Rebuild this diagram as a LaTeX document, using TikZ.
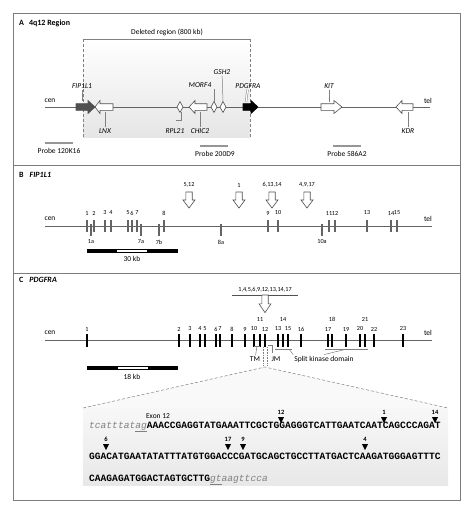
\documentclass[tikz,border=0pt]{standalone}
\usepackage{fontspec}
\setmainfont{Carlito}
\newfontfamily\seqfont{Liberation Mono}
\usepackage{xcolor}
\definecolor{linegray}{RGB}{100,100,100}
\definecolor{framegray}{RGB}{125,125,125}
\definecolor{probegray}{RGB}{150,150,150}
\definecolor{genedark}{RGB}{80,80,80}

\begin{document}
\begin{tikzpicture}[x=1pt, y=-1pt,
    lbl/.style={font=\fontsize{7.5}{9}\selectfont, inner sep=1pt},
    gname/.style={font=\fontsize{7.5}{9}\selectfont\itshape, inner sep=1pt},
    num/.style={font=\fontsize{6.2}{7}\selectfont, inner sep=0.5pt},
    mut/.style={font=\fontsize{6.5}{7}\selectfont\bfseries, inner sep=0.5pt},
    panel/.style={font=\fontsize{8}{9}\selectfont\bfseries, anchor=west, inner sep=0},
    chrom/.style={linegray, line width=1pt},
    tick/.style={gray, line width=0.5pt},
    probe/.style={probegray, line width=2.5pt},
    exonB/.style={linegray, line width=1.5pt},
    exonC/.style={black, line width=1.9pt},
    genewhite/.style={draw=genedark, fill=white, line width=0.6pt},
    genefill/.style={draw=#1, fill=#1, line width=0.6pt},
    seq/.style={font=\seqfont\bfseries\fontsize{9.6}{10}\selectfont, anchor=west, inner sep=0},
    pics/gene/.style 2 args={code={
        \draw[pic actions] (0,-3.3) -- (#1-#2,-3.3) -- (#1-#2,-6.5) -- (#1,0)
            -- (#1-#2,6.5) -- (#1-#2,3.3) -- (0,3.3) -- cycle;}},
    pics/hollow/.style={code={
        \draw[genedark, fill=white, line width=0.6pt] (-3.2,0) -- (3.2,0) -- (3.2,8)
            -- (6,8) -- (0,16) -- (-6,8) -- (-3.2,8) -- cycle;}}
]
\useasboundingbox (0,0) rectangle (474,515);

% frame
\draw[framegray, line width=0.7pt] (13,13) rectangle (460,500);
\draw[framegray, line width=0.7pt] (13,165) -- (460,165) (13,273) -- (460,273);

% ---------- A: 4q12 region
\node[panel] (titA) at (19,23) {A\hspace{5pt}4q12 Region};
\shade[top color=white, bottom color=gray!20] (83,39) rectangle (250,137);
\draw[gray, line width=0.5pt] (83,39) -- (250,39);
\draw[gray, densely dashed, line width=0.5pt] (83,39) -- (83,137) (250,39) -- (250,137);
\node[lbl] (del) at (167,32) {Deleted region (800 kb)};

\draw[chrom] (45,107) -- (430,107);
\node[lbl] (cenA) at (50,101) {cen};
\node[lbl] (telA) at (428,101) {tel};

\pic[genefill=genedark] at (76,107) {gene={19}{7}};
\pic[genewhite, xscale=-1] at (113,107) {gene={18}{5}};
\draw[genewhite] (177,107) -- (180,101.5) -- (183,107) -- (180,112.5) -- cycle;
\pic[genewhite, xscale=-1] at (207,107) {gene={18}{6}};
\draw[genewhite] (211,107) -- (214,101.5) -- (217,107) -- (214,112.5) -- cycle;
\draw[genewhite] (220,107) -- (223,101.5) -- (226,107) -- (223,112.5) -- cycle;
\pic[genefill=black] at (243,107) {gene={15}{7}};
\pic[genewhite] at (321,107) {gene={21}{8}};
\pic[genewhite, xscale=-1] at (413,107) {gene={17}{6}};

% gene names
\node[gname] (fip) at (82,86) {FIP1L1};
\node[gname] (lnx) at (105,131) {LNX};
\node[gname] (rpl) at (175,131) {RPL21};
\node[gname] (chic) at (200,131) {CHIC2};
\node[gname] (morf) at (200,85) {MORF4};
\node[gname] (gsh) at (222,72) {GSH2};
\node[gname] (pdg) at (248,86) {PDGFRA};
\node[gname] (kit) at (329,86) {KIT};
\node[gname] (kdr) at (408,131) {KDR};

\coordinate (fipg) at (82,101);
\coordinate (lnxg) at (105,112);
\coordinate (rplg) at (181,112);
\coordinate (rplk) at (176,120);
\coordinate (chicg) at (200,112);
\coordinate (morft) at (214,89);
\coordinate (morfg) at (214,102);
\coordinate (gshg) at (223,102);
\coordinate (pdgg) at (246,102);
\coordinate (kitg) at (329,102);
\coordinate (kdrg) at (408,112);

\draw[tick] (fip) -- (fipg);
\draw[tick] (lnx) -- (lnxg);
\draw[tick] (rplg) |- (rplk);
\draw[tick] (chic) -- (chicg);
\draw[tick] (morft) -- (morfg);
\draw[tick] (gsh) -- (gshg);
\draw[tick, double distance=1.2pt] (pdg) -- (pdgg);
\draw[tick] (kit) -- (kitg);
\draw[tick] (kdr) -- (kdrg);

% probes
\draw[probe] (45,143) -- (73,143);
\node[lbl] (p1) at (59,151) {Probe 120K16};
\draw[probe] (200,146) -- (228,146);
\node[lbl] (p2) at (215,154) {Probe 200D9};
\draw[probe] (333,146) -- (361,146);
\node[lbl] (p3) at (347,154) {Probe 586A2};

% ---------- B: FIP1L1
\node[panel] (titB) at (19,175) {B\hspace{6pt}\itshape FIP1L1};
\draw[chrom] (45,226) -- (432,226);
\node[lbl] (cenB) at (50,219) {cen};
\node[lbl] (telB) at (428,219) {tel};

\foreach \x/\n in {87/1,94/2,105/3,111/4,128/5,132/6,137/7,164/8,268/9,278/10,329/11,335/12,367/13,391/14,397/15}{
    \draw[exonB] (\x,220) -- (\x,232);
    \node[num] at (\x,213) {\n};
}
\foreach \x/\n in {91/1a,141/7a,159/7b,221/8a,322/10a}{
    \draw[exonB] (\x,224) -- (\x,236);
    \node[num] at (\x,242) {\n};
}

\foreach \x/\n in {189/{5,12},239/1,272/{6,13,14},307/{4,9,17}}{
    \pic at (\x,192) {hollow};
    \node[num] at (\x,185) {\n};
}

\fill (87,249) rectangle (178,253);
\fill[white] (117,250) rectangle (147,252);
\node[lbl] (kbB) at (132,259) {30 kb};

% ---------- C: PDGFRA
\node[panel] (titC) at (19,280) {C\hspace{6pt}\itshape PDGFRA};
\draw[chrom] (45,340) -- (432,340);
\node[lbl] (cenC) at (50,333) {cen};
\node[lbl] (telC) at (428,333) {tel};

\foreach \x/\n in {87/1,179/2,190/3,200/4,205/5,216/6,220/7,232/8,245/9,254/10,265/12,278/13,288/15,301/16,328/17,346/19,360/20,374/22,403/23}{
    \draw[exonC] (\x,334) -- (\x,347);
    \node[num] at (\x,329) {\n};
}
\foreach \x/\n in {260/11,283/14,332/18,365/21}{
    \draw[exonC] (\x,334) -- (\x,347);
    \node[num] at (\x,319) {\n};
}

\node[num] (mutC) at (265,290) {1,4,5,6,9,12,13,14,17};
\draw[genedark, line width=0.6pt] (232,295) -- (298,295);
\pic[yscale=1.1] at (265,295) {hollow};

% domains
\node[lbl] (tm) at (255,359) {TM};
\node[lbl] (jm) at (276,359) {JM};
\node[lbl] (skd) at (324,359) {Split kinase domain};
\coordinate (tmb) at (257,346);
\coordinate (jmb) at (268,345);
\coordinate (jmt) at (272,353);
\draw[tick] (tmb) -- (tm);
\draw[tick] (254,346) -- (260,346);
\draw[tick] (jmb) -| (jmt);
\draw[tick] (275,349) -- (292,349);
\draw[tick] (325,349) -- (368,349);
\coordinate (k1) at (289,349);
\coordinate (k2) at (347,349);
\draw[tick] (k1) -- (skd.north west);
\draw[tick] (k2) -- (skd.north);

% zoom onto exon 12
\coordinate (apex) at (265,367);
\fill[gray!5] (apex) -- (83,408) -- (448,408) -- cycle;
\shade[top color=gray!6, bottom color=gray!18] (83,408) rectangle (448,485);
\draw[gray, densely dotted, line width=0.6pt] (263.5,347) -- (263.5,365) (267,347) -- (267,365);
\draw[gray, densely dashed, line width=0.5pt] (83,408) -- (apex) -- (448,408);

\fill (87,366) rectangle (178,370);
\fill[white] (118,367) rectangle (148,369);
\node[lbl] (kbC) at (132,377) {18 kb};

% sequence
\node[lbl] (ex12) at (158,416) {Exon 12};
\node[seq] (s1) at (89,427) {{\color{gray}\mdseries\itshape tcatttat\underline{ag}}AAACCGAGGTATGAAATTCGCTGGAGGGTCATTGAATCAATCAGCCCAGAT};
\node[seq] (s2) at (89,456) {GGACATGAATATATTTATGTGGACCCGATGCAGCTGCCTTATGACTCAAGATGGGAGTTTC};
\node[seq] (s3) at (89,480) {CAAGAGATGGACTAGTGCTTG{\color{gray}\mdseries\itshape \underline{gt}aagttcca}};

\foreach \x/\n in {281/12,384/1,435/14}{
    \fill (\x-3,417) -- (\x+3,417) -- (\x,423) -- cycle;
    \node[mut] at (\x,412) {\n};
}
\foreach \x/\n in {106/6,228/17,243/9,365/4}{
    \fill (\x-3,444) -- (\x+3,444) -- (\x,450) -- cycle;
    \node[mut] at (\x,439) {\n};
}
\end{tikzpicture}
\end{document}
